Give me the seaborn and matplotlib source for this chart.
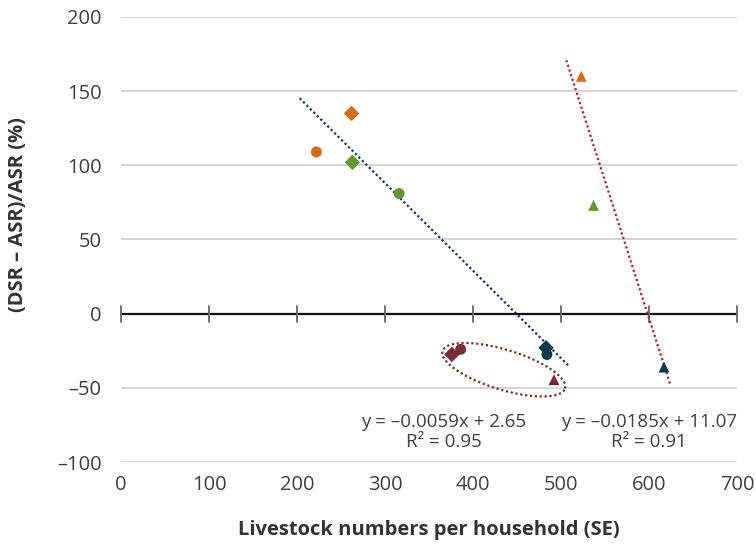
import numpy as np
import pandas as pd
import matplotlib
matplotlib.use("Agg")
import matplotlib.pyplot as plt
import seaborn as sns

# ---- data ----
livestock = [222, 262, 523, 263, 316, 537, 483, 484, 617, 376, 386, 492]
change_pct = [109, 135, 160, 102, 81, 73, -23, -27.5, -36, -27.5, -24, -44.5]
group = ["Orange", "Orange", "Orange", "Green", "Green", "Green",
         "Navy", "Navy", "Navy", "Maroon", "Maroon", "Maroon"]
shape = ["circle", "diamond", "triangle", "diamond", "circle", "triangle",
         "diamond", "circle", "triangle", "diamond", "circle", "triangle"]

fit1_slope, fit1_icpt, fit1_r2 = -0.0059, 2.65, 0.95
fit1_range = [203, 508]
fit2_slope, fit2_icpt, fit2_r2 = -0.0185, 11.07, 0.91
fit2_range = [506, 624]

x_ticks = [0, 100, 200, 300, 400, 500, 600, 700]
y_ticks = [-100, -50, 0, 50, 100, 150, 200]

df = pd.DataFrame({"x": livestock, "y": change_pct, "group": group, "shape": shape})

palette = {"Orange": "#DD6A16", "Green": "#5E9B2A", "Navy": "#0D3A4C", "Maroon": "#7C2B35"}
markers = {"circle": "o", "diamond": "D", "triangle": "^"}

sns.set_style("white")
plt.rcParams["font.family"] = ["Open Sans", "DejaVu Sans"]

fig = plt.figure(figsize=(7.56, 5.45), dpi=100)
W, H = 756, 545
ax = fig.add_axes([121 / W, (H - 462) / H, 616 / W, 445 / H])
ax.set_xlim(0, 700)
ax.set_ylim(-100, 200)

# grid lines
for yv in y_ticks:
    if yv != 0:
        ax.axhline(yv, color="#D0D0D0", lw=1.2, zorder=0)
ax.axhline(0, color="#111111", lw=1.6, zorder=1)
# tick marks on zero line
for xv in x_ticks:
    ax.plot([xv, xv], [-5.5, 5.5], color="#666666", lw=1.3, zorder=1, clip_on=False)

for s in ax.spines.values():
    s.set_visible(False)

# trend lines
xs1 = np.array(fit1_range, dtype=float)
ax.plot(xs1, (fit1_slope * xs1 + fit1_icpt) * 100, color="#0D3A4C", lw=1.6,
        linestyle=(0, (1, 1.2)), dash_capstyle="butt", zorder=2)
xs2 = np.array(fit2_range, dtype=float)
ax.plot(xs2, (fit2_slope * xs2 + fit2_icpt) * 100, color="#D0171F", lw=1.6,
        linestyle=(0, (1, 1.2)), dash_capstyle="butt", zorder=2)

sns.scatterplot(data=df, x="x", y="y", hue="group", style="shape",
                palette=palette, markers=markers, s=62, linewidth=0,
                legend=False, ax=ax, zorder=3)

# ellipse around maroon group (drawn in display space)
cx, cy = ax.transData.transform((435, -37.8))
th = np.deg2rad(-17)
a, b = 64, 20
t = np.linspace(0, 2 * np.pi, 300)
dx = a * np.cos(t) * np.cos(th) - b * np.sin(t) * np.sin(th)
dy = a * np.cos(t) * np.sin(th) + b * np.sin(t) * np.cos(th)
pts = ax.transData.inverted().transform(np.column_stack([cx + dx, cy + dy]))
ax.plot(pts[:, 0], pts[:, 1], color="#7C2B35", lw=1.6,
        linestyle=(0, (1, 1.2)), dash_capstyle="butt", zorder=2)

# annotations
ax.text(367, -80, f"y = \u20130.0059x + 2.65\nR\u00b2 = {fit1_r2:.2f}", ha="center", va="center",
        multialignment="center", fontsize=13.5, color="#404040", linespacing=1.15)
ax.text(600, -80, f"y = \u20130.0185x + 11.07\nR\u00b2 = {fit2_r2:.2f}", ha="center", va="center",
        multialignment="center", fontsize=13.5, color="#404040", linespacing=1.15)

# y ticks
ax.set_yticks(y_ticks)
ax.set_yticklabels([str(v).replace("-", "\u2013") for v in y_ticks])
ax.tick_params(axis="y", length=0, pad=14, labelsize=14.5, labelcolor="#404040")

# x ticks on bottom (labels only)
ax.set_xticks(x_ticks)
ax.set_xticklabels([str(v) for v in x_ticks])
ax.tick_params(axis="x", length=0, pad=9, labelsize=14.5, labelcolor="#404040")

ax.set_xlabel("Livestock numbers per household (SE)", fontsize=14.5, fontweight="bold",
              color="#333333", va="center")
ax.xaxis.set_label_coords(0.5, (462 - 530) / 445)
ax.set_ylabel("(DSR \u2013 ASR)/ASR (%)", fontsize=14.5, fontweight="bold",
              color="#333333", va="center")
ax.yaxis.set_label_coords((18 - 121) / 616, (462 - 215) / 445)

fig.savefig("out.png", dpi=100)
